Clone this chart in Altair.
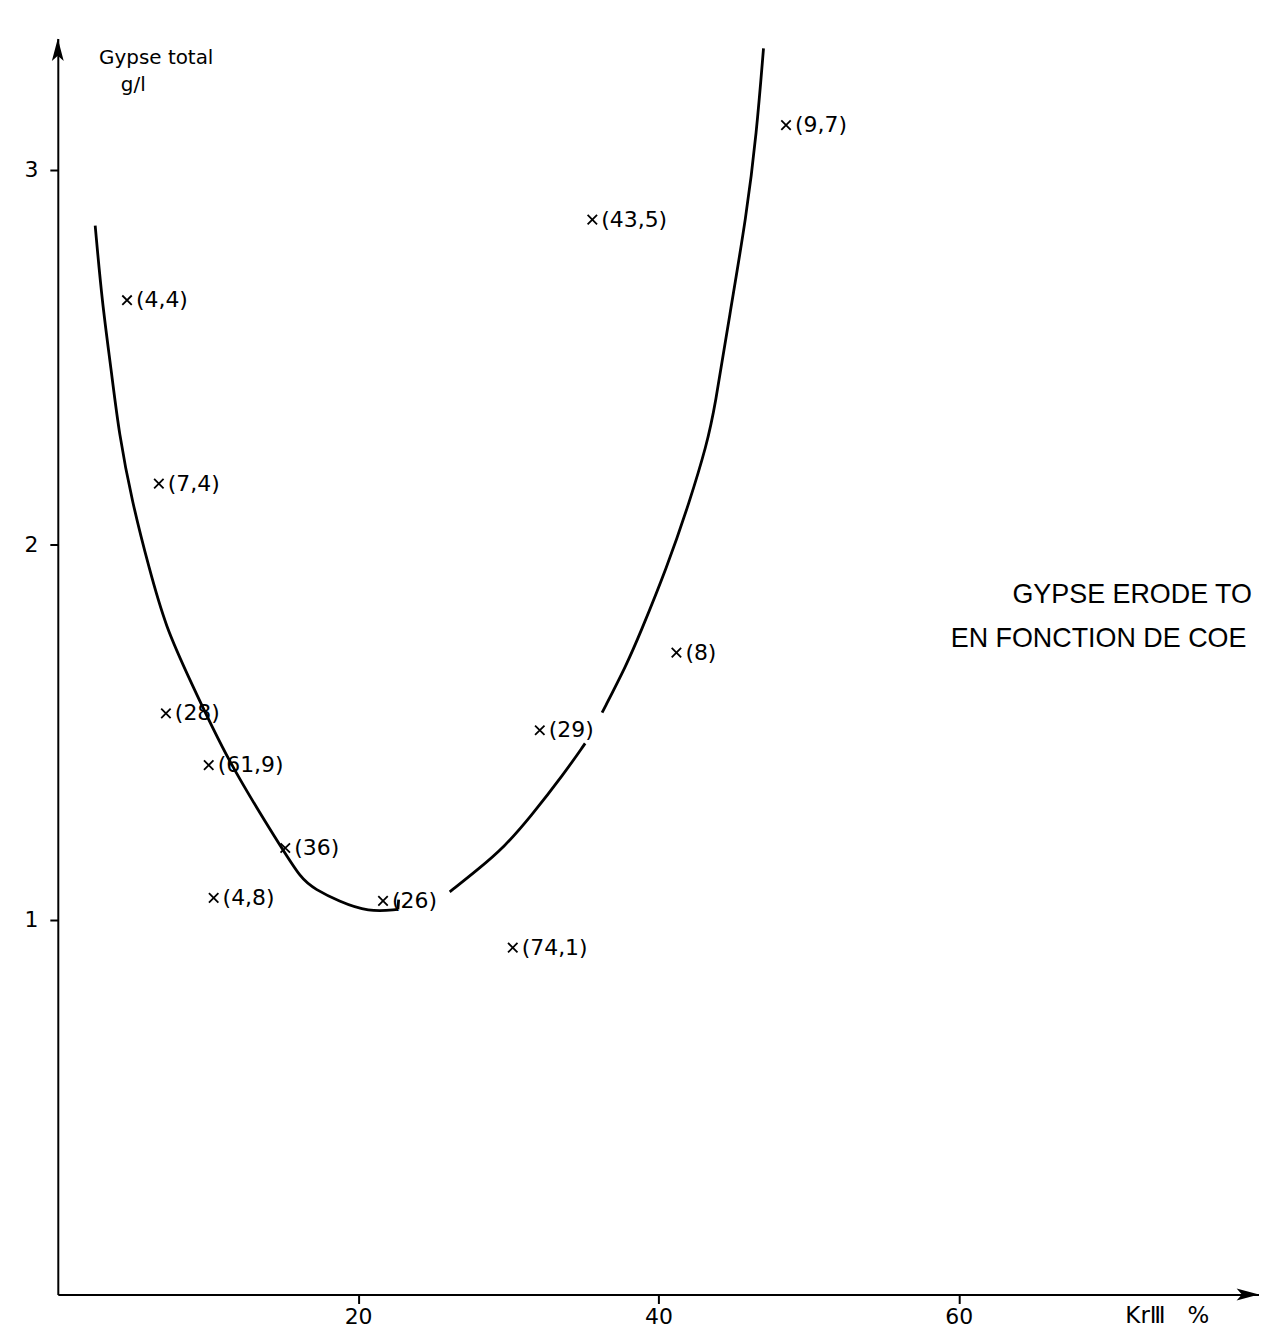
import altair as alt
import pandas as pd

# ---- curve (three drawn pieces + small end tick) ----
curve_x = [2.49, 2.95, 3.55, 4.08, 4.94, 6.07, 7.20, 8.72, 11.38, 14.69, 16.22, 17.15, 18.69, 20.68, 22.65,
           22.65, 22.70,
           26.10, 27.96, 29.75, 31.48, 33.73, 35.12,
           36.25, 37.91, 38.77, 40.56, 42.09, 43.22, 43.75, 44.74, 45.87, 46.54, 47.00]
curve_y = [2.851, 2.647, 2.469, 2.294, 2.116, 1.938, 1.779, 1.646, 1.418, 1.205, 1.107, 1.081, 1.049, 1.020, 1.027,
           1.027, 1.053,
           1.074, 1.133, 1.194, 1.274, 1.390, 1.470,
           1.552, 1.682, 1.762, 1.938, 2.116, 2.267, 2.363, 2.612, 2.878, 3.098, 3.324]
curve_seg = ["a"] * 15 + ["t"] * 2 + ["b"] * 6 + ["c"] * 11

# ---- measured points ----
pt_x = [4.61, 6.73, 7.20, 10.05, 15.15, 10.38, 21.66, 30.30, 32.10, 41.20, 35.60, 48.50]
pt_y = [2.652, 2.163, 1.550, 1.412, 1.191, 1.058, 1.050, 0.925, 1.505, 1.712, 2.867, 3.119]
pt_lab = ["(4,4)", "(7,4)", "(28)", "(61,9)", "(36)", "(4,8)", "(26)", "(74,1)", "(29)", "(8)", "(43,5)", "(9,7)"]

# ---- annotations ----
axis_note_x = [2.75, 4.2]
axis_note_y = [3.297, 3.225]
axis_note_txt = ["Gypse total", "g/l"]

title_x = [63.58, 59.47]
title_y = [1.867, 1.748]
title_txt = ["GYPSE ERODE TO", "EN FONCTION DE COE"]

xt_x = [71.1]
xt_y = [-0.057]
xt_txt = ["KrⅢ\u00a0\u00a0\u00a0%"]

arrow_x = [0, 80]
arrow_y = [3.35, 0]
arrow_shape = ["M0,0L-0.45,1.7L0,1.3L0.45,1.7Z", "M0,0L-1.7,-0.45L-1.3,0L-1.7,0.45Z"]

curve_df = pd.DataFrame({"x": curve_x, "y": curve_y, "seg": curve_seg,
                         "o": list(range(len(curve_x)))})
pt_df = pd.DataFrame({"x": pt_x, "y": pt_y, "lab": pt_lab})
axis_note_df = pd.DataFrame({"x": axis_note_x, "y": axis_note_y, "t": axis_note_txt})
title_df = pd.DataFrame({"x": title_x, "y": title_y, "t": title_txt})
xt_df = pd.DataFrame({"x": xt_x, "y": xt_y, "t": xt_txt})
arrow_df = pd.DataFrame({"x": arrow_x, "y": arrow_y, "sh": arrow_shape})

xs = alt.Scale(domain=[0, 80], nice=False, zero=False)
ys = alt.Scale(domain=[0, 3.35], nice=False, zero=False)

FONT = "DejaVu Sans"

x_axis = alt.Axis(values=[20, 40, 60], title=None, grid=False, domainColor="black", domainWidth=2,
                  tickColor="black", tickWidth=2, tickSize=9, labelFontSize=22, labelFont=FONT,
                  labelColor="black", labelPadding=3)
y_axis = alt.Axis(values=[1, 2, 3], title=None, grid=False, domainColor="black", domainWidth=2,
                  tickColor="black", tickWidth=2, tickSize=8, labelFontSize=22, labelFont=FONT,
                  labelColor="black", labelPadding=12)


def xy():
    return dict(x=alt.X("x:Q", scale=xs, axis=x_axis, title=None),
                y=alt.Y("y:Q", scale=ys, axis=y_axis, title=None))


curve = alt.Chart(curve_df).mark_line(color="black", strokeWidth=2.8, interpolate="basis").encode(
    detail="seg:N",
    order="o:Q",
    **xy(),
)

points = alt.Chart(pt_df).mark_point(shape="M-1,-1L1,1M-1,1L1,-1", size=90, filled=False,
                                     color="black", strokeWidth=1.8, opacity=1).encode(**xy())

labels = alt.Chart(pt_df).mark_text(align="left", baseline="middle", dx=9, fontSize=22,
                                    font=FONT, color="black").encode(text="lab:N", **xy())

axis_notes = alt.Chart(axis_note_df).mark_text(align="left", baseline="middle", fontSize=20,
                                               font=FONT, color="black").encode(text="t:N", **xy())

title_notes = alt.Chart(title_df).mark_text(align="left", baseline="middle", fontSize=27,
                                            font="Liberation Sans", color="black").encode(text="t:N", **xy())

xtitle = alt.Chart(xt_df).mark_text(align="left", baseline="middle", fontSize=23, font=FONT,
                                    color="black").encode(text="t:N", **xy())

arrows = alt.Chart(arrow_df).mark_point(size=700, filled=True, color="black", opacity=1).encode(
    shape=alt.Shape("sh:N", scale=None, legend=None), **xy())

chart = alt.layer(curve, points, labels, axis_notes, title_notes, xtitle, arrows).properties(
    width=1206, height=1261,
    autosize=alt.AutoSizeParams(type="none"),
    padding={"left": 50, "top": 28, "right": 0, "bottom": 40},
    background="white",
).configure_view(stroke=None)

chart.save("out.html", embed_options={"renderer": "svg", "actions": False})
